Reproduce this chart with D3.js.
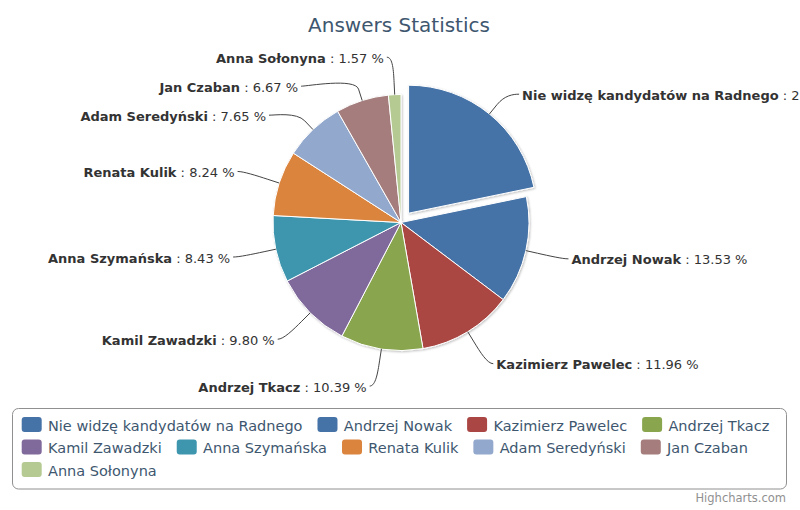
<!DOCTYPE html>
<meta charset="utf-8">
<script src="https://d3js.org/d3.v7.min.js"></script>
<style>
  body { margin: 0; background: #fff; }
  text { font-family: "DejaVu Sans", Verdana, sans-serif; }
</style>

<div id="chart"></div>

<script>

// data (percent of answers)
var names = ["Nie widzę kandydatów na Radnego", "Andrzej Nowak", "Kazimierz Pawelec",
             "Andrzej Tkacz", "Kamil Zawadzki", "Anna Szymańska", "Renata Kulik",
             "Adam Seredyński", "Jan Czaban", "Anna Sołonyna"];
var shares = [21.76, 13.53, 11.96, 10.39, 9.80, 8.43, 8.24, 7.65, 6.67, 1.57];
var colors = ["#4572A7", "#4572A7", "#AA4643", "#89A54E", "#80699B",
              "#3D96AE", "#DB843D", "#92A8CD", "#A47D7C", "#B5CA92"];
var slicedName = "Nie widzę kandydatów na Radnego";

var width = 800, height = 510;
var cx = 401, cy = 222.5, radius = 128;
var labelDistance = 37.5, slicedOffset = 12, slotHeight = 29;

var svg = d3.select("#chart")
  .append("svg")
    .attr("width", width)
    .attr("height", height);

// soft shadow under the pie
var filter = svg.append("defs").append("filter")
    .attr("id", "shadow")
    .attr("x", "-10%").attr("y", "-10%")
    .attr("width", "120%").attr("height", "120%");
filter.append("feDropShadow")
    .attr("dx", 1).attr("dy", 1)
    .attr("stdDeviation", 1.2)
    .attr("flood-color", "#000")
    .attr("flood-opacity", 0.25);

// title
svg.append("text")
    .attr("x", 399)
    .attr("y", 32)
    .attr("text-anchor", "middle")
    .style("font-size", "20px")
    .style("fill", "#3E576F")
    .text("Answers Statistics");

var pie = d3.pie().sort(null).value(function(d) { return d; });
var arcs = pie(shares);
var arc = d3.arc().innerRadius(0).outerRadius(radius);

function midAngle(d) { return (d.startAngle + d.endAngle) / 2; }
function offsetOf(d, i) {
  if (names[i] !== slicedName) return [0, 0];
  var a = midAngle(d);
  return [slicedOffset * Math.sin(a), -slicedOffset * Math.cos(a)];
}

// slices
var pieG = svg.append("g")
    .attr("transform", "translate(" + cx + "," + cy + ")")
    .attr("filter", "url(#shadow)");

pieG.selectAll("path")
  .data(arcs)
  .enter()
  .append("path")
    .attr("d", arc)
    .attr("fill", function(d, i) { return colors[i]; })
    .attr("stroke", "#fff")
    .attr("stroke-width", 1)
    .attr("stroke-linejoin", "round")
    .attr("transform", function(d, i) {
      var o = offsetOf(d, i);
      return "translate(" + o[0] + "," + o[1] + ")";
    });

// data labels: natural position on a bigger circle, then pushed apart per side
var R = radius + labelDistance;
var labels = arcs.map(function(d, i) {
  var a = midAngle(d);
  return { i: i, a: a, left: a > Math.PI, y: cy - R * Math.cos(a), off: offsetOf(d, i) };
});

[true, false].forEach(function(side) {
  var list = labels.filter(function(l) { return l.left === side; })
                   .sort(function(p, q) { return p.y - q.y; });
  for (var k = 1; k < list.length; k++) {
    if (list[k].y < list[k - 1].y + slotHeight) list[k].y = list[k - 1].y + slotHeight;
  }
});

labels.forEach(function(l) {
  var dy = Math.max(-R, Math.min(R, l.y - cy));
  l.x = cx + (l.left ? -1 : 1) * Math.sqrt(R * R - dy * dy) + l.off[0];
});

var labelG = svg.append("g");

labels.forEach(function(l) {
  var s = Math.sin(l.a), c = -Math.cos(l.a);
  var bx = cx + radius * s + l.off[0], by = cy + radius * c + l.off[1];
  var kx = cx + (radius + 12) * s + l.off[0], ky = cy + (radius + 12) * c + l.off[1];
  var dir = l.left ? -1 : 1;

  var path = d3.path();
  path.moveTo(l.x + dir * 6, l.y);
  path.bezierCurveTo(l.x, l.y, 2 * kx - bx, 2 * ky - by, kx, ky);
  path.lineTo(bx, by);

  labelG.append("path")
      .attr("d", path.toString())
      .attr("fill", "none")
      .attr("stroke", "#444")
      .attr("stroke-width", 1);

  var t = labelG.append("text")
      .attr("x", l.x + dir * 9)
      .attr("y", l.y + 5.5)
      .attr("text-anchor", l.left ? "end" : "start")
      .style("font-size", "13px")
      .style("fill", "#333");
  t.append("tspan").style("font-weight", "bold").text(names[l.i]);
  t.append("tspan").text(" : " + shares[l.i].toFixed(2) + " %");
});

// legend
var legendX = 12.5, legendY = 408.5, legendW = 774, legendH = 80.5;
var legend = svg.append("g");

legend.append("rect")
    .attr("x", legendX)
    .attr("y", legendY)
    .attr("width", legendW)
    .attr("height", legendH)
    .attr("rx", 6)
    .attr("fill", "none")
    .attr("stroke", "#909090")
    .attr("stroke-width", 1);

var startX = legendX + 9.2, rowY = 424.5, rowH = 22.5;
var ix = startX, iy = rowY;

names.forEach(function(n, i) {
  var item = legend.append("g");
  var txt = item.append("text")
      .attr("x", 26.3)
      .attr("y", 6)
      .style("font-size", "14.5px")
      .style("fill", "#3E576F")
      .text(n);
  var w = txt.node().getComputedTextLength();
  if (ix > startX && ix + 26.3 + w > legendX + legendW - 8) {
    ix = startX;
    iy += rowH;
  }
  item.insert("rect", "text")
      .attr("x", 0)
      .attr("y", -7.5)
      .attr("width", 20)
      .attr("height", 15)
      .attr("rx", 3)
      .attr("fill", colors[i]);
  item.attr("transform", "translate(" + ix + "," + iy + ")");
  ix += 26.3 + w + 15;
});

// credits
svg.append("text")
    .attr("x", 786)
    .attr("y", 502)
    .attr("text-anchor", "end")
    .style("font-size", "11.5px")
    .style("fill", "#909090")
    .text("Highcharts.com");

</script>
